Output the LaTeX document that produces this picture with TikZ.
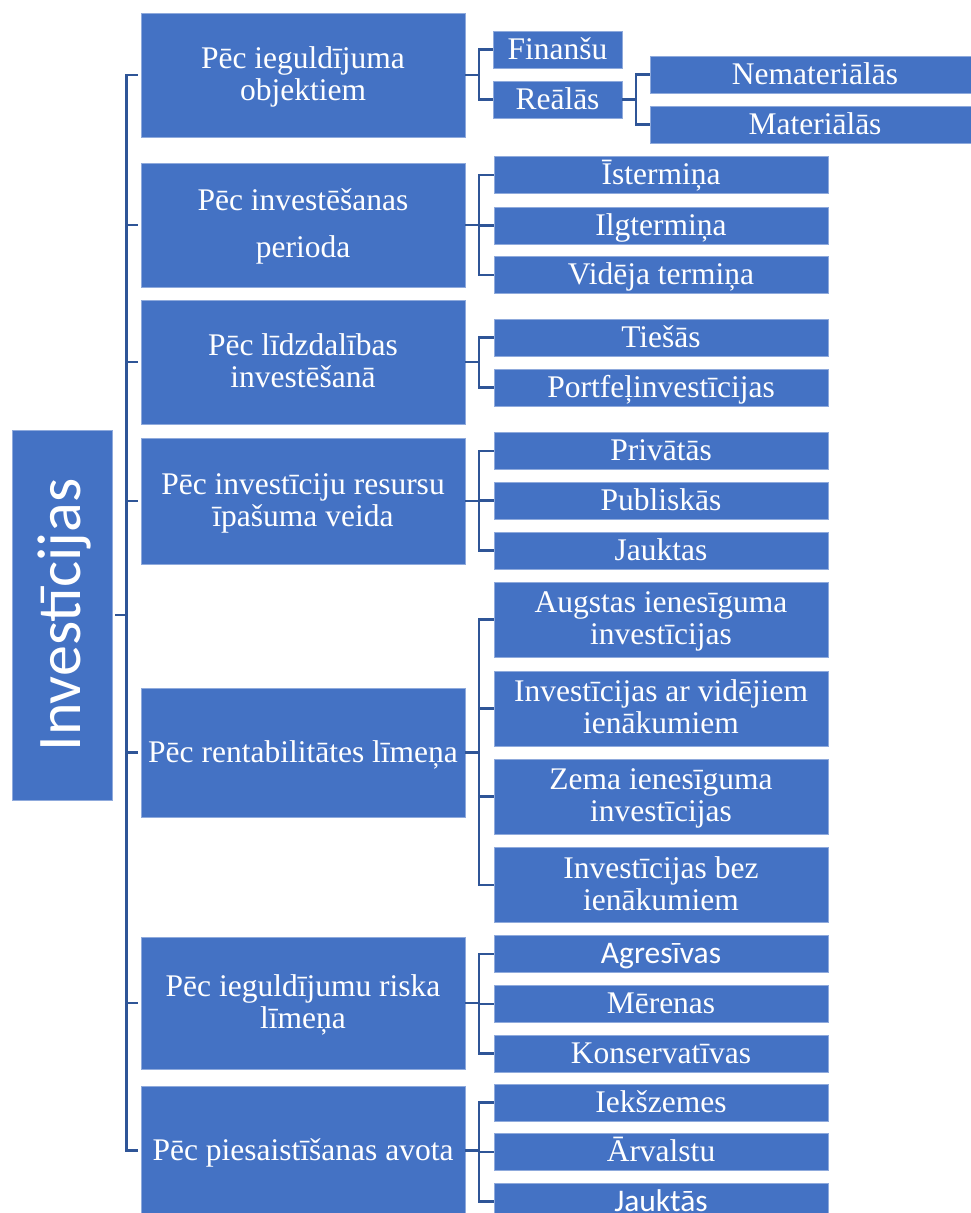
\documentclass[tikz,border=0pt]{standalone}
\usepackage{fontspec}
\setmainfont{Liberation Serif}
\newfontfamily\calibri{Carlito}
\definecolor{boxblue}{HTML}{4472C4}
\definecolor{boxedge}{HTML}{8FAADC}
\definecolor{linkblue}{HTML}{2F5597}
% deux lignes centrees, ligne de base = premiere ligne
\newcommand\deuxlignes[3][32pt]{\vtop{\baselineskip=#1\lineskiplimit=-100pt
    \halign{\hfil##\hfil\cr #2\cr #3\cr}}}

\begin{document}
\begin{tikzpicture}[x=1pt, y=-1pt,
    box/.style={draw=boxedge, line width=.8pt, fill=boxblue, text=white, inner sep=0pt,
        font=\fontsize{31.5}{32}\selectfont},
    cat/.style={box, minimum width=324pt, minimum height=124pt, text height=22pt, text depth=3pt},
    leaf/.style={box, minimum width=334pt, minimum height=37pt, text height=22pt, text depth=3pt},
    tall/.style={text height=22pt, text depth=36pt},
    sans/.style={font=\calibri\fontsize{31.5}{32}\selectfont},
    link/.style={draw=linkblue, line width=2.2pt}]

    \useasboundingbox (0,0) rectangle (971,1213);

    % racine
    \node[box, rotate=90, minimum width=370pt, minimum height=100pt,
        font=\calibri\fontsize{62}{70}\selectfont, text height=42pt, text depth=6pt]
        (inv) at (62,615) {Investīcijas};

    % niveau 1
    \node[cat, tall] (obj) at (303,75) {\deuxlignes{Pēc ieguldījuma}{objektiem}};
    \node[cat, text depth=52pt] (per) at (303,225) {\deuxlignes[47pt]{Pēc investēšanas}{perioda}};
    \node[cat, tall] (lid) at (303,362) {\deuxlignes{Pēc līdzdalības}{investēšanā}};
    \node[cat, tall, minimum height=126pt] (res) at (303,501) {\deuxlignes{Pēc investīciju resursu}{īpašuma veida}};
    \node[cat, minimum height=129pt] (ren) at (303,752.5) {Pēc rentabilitātes līmeņa};
    \node[cat, tall, minimum height=132pt] (ris) at (303,1003) {\deuxlignes{Pēc ieguldījumu riska}{līmeņa}};
    \node[cat, minimum height=129pt] (avo) at (303,1150.5) {Pēc piesaistīšanas avota};

    \foreach \c in {obj,per,lid,res,ren,ris,avo}
        \draw[link, shorten <=3pt, shorten >=3pt] (inv.south) -- ++(14,0) |- (\c.west);

    % niveau 2
    \node[leaf, minimum width=129pt] (fin) at (557.5,49.5) {Finanšu};
    \node[leaf, minimum width=129pt] (rea) at (557.5,99.5) {Reālās};
    \node[leaf, minimum width=330pt] (nem) at (815,74.5) {Nemateriālās};
    \node[leaf, minimum width=330pt] (mat) at (815,124.5) {Materiālās};

    \foreach \n/\y/\t in {ist/175/Īstermiņa, ilg/225.5/Ilgtermiņa, vid/275/Vidēja termiņa,
        tie/337.5/Tiešās, por/387.5/Portfeļinvestīcijas,
        pri/451/Privātās, pub/500.5/Publiskās, jkt/550.5/Jauktas,
        mer/1004/Mērenas, kon/1053.5/Konservatīvas,
        iek/1102.5/Iekšzemes, arv/1152/Ārvalstu}
        \node[leaf] (\n) at (661,\y) {\t};
    \node[leaf, sans] (agr) at (661,954) {Agresīvas};
    \node[leaf, sans] (jks) at (661,1201.5) {Jauktās};

    \foreach \n/\y/\a/\b in {aug/619.5/Augstas ienesīguma/investīcijas,
        vdj/708.5/Investīcijas ar vidējiem/ienākumiem,
        zem/796.5/Zema ienesīguma/investīcijas,
        bez/885/Investīcijas bez/ienākumiem}
        \node[leaf, tall, minimum height=75pt] (\n) at (661,\y) {\deuxlignes{\a}{\b}};

    \foreach \p/\cs in {obj/{fin,rea}, rea/{nem,mat}, per/{ist,ilg,vid}, lid/{tie,por},
        res/{pri,pub,jkt}, ren/{aug,vdj,zem,bez}, ris/{agr,mer,kon}, avo/{iek,arv,jks}}
        \foreach \c in \cs
            \draw[link] (\p.east) -- ++(13.5,0) |- (\c.west);
\end{tikzpicture}
\end{document}
